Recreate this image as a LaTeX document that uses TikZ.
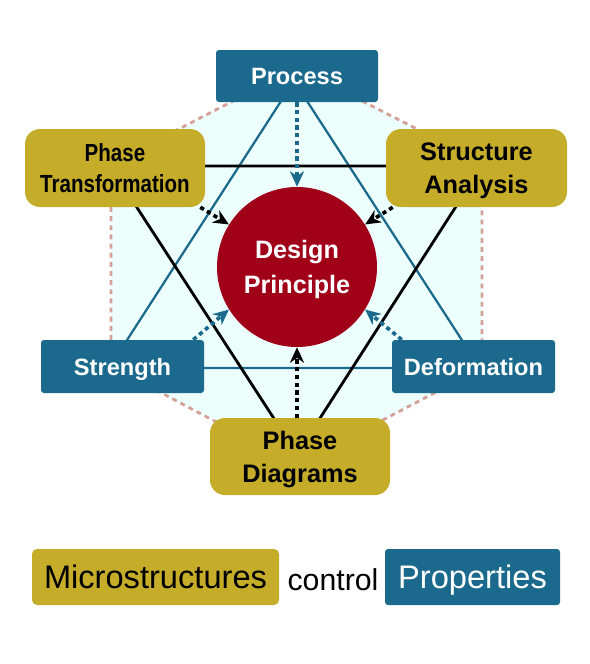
\documentclass[tikz,border=0pt]{standalone}
\usepackage{fontspec}
\setmainfont{Liberation Sans}
\newfontfamily\narrowfont[FakeStretch=0.83]{Liberation Sans}
\usetikzlibrary{arrows.meta}

\newdimen\px \px=0.025cm

\definecolor{propblue}{HTML}{1B6A8E}
\definecolor{microgold}{HTML}{C5AC29}
\definecolor{designred}{HTML}{A10019}
\definecolor{hexfill}{HTML}{EDFFFD}
\definecolor{hexline}{HTML}{D3A197}

\tikzset{
  propbox/.style={fill=propblue, text=white, rounded corners=3\px, inner sep=0pt,
    minimum width=163\px, minimum height=53\px, text height=12.1pt, text depth=0pt,
    font=\fontsize{16.8}{20}\selectfont\bfseries},
  microbox/.style={fill=microgold, text=black, rounded corners=15\px, inner sep=0pt,
    minimum width=180\px, minimum height=78\px, align=center, text depth=0pt,
    font=\fontsize{18}{23.4}\selectfont\bfseries},
  linkarrow/.style={line width=2.6pt, dash pattern=on 3pt off 2.5pt,
    -{Stealth[length=11pt,width=10pt,inset=3.5pt]}},
  legendtext/.style={inner sep=0pt, text height=16.7pt, text depth=0pt,
    font=\fontsize{23.2}{28}\selectfont},
}

\begin{document}
\begin{tikzpicture}[x=0.025cm, y=-0.025cm]
    \useasboundingbox (0,0) rectangle (590,664);

    % Esagono
    \coordinate (h1) at (297,68);
    \coordinate (h2) at (482,162);
    \coordinate (h3) at (482,368);
    \coordinate (h4) at (297,465);
    \coordinate (h5) at (111,366);
    \coordinate (h6) at (111,164);
    \fill[hexfill] (h1) -- (h2) -- (h3) -- (h4) -- (h5) -- (h6) -- cycle;
    \draw[hexline, line width=2pt, dash pattern=on 3.5pt off 3pt]
        (h1) -- (h2) -- (h3) -- (h4) -- (h5) -- (h6) -- cycle;

    % Triangoli
    \coordinate (bt) at (294,81);
    \coordinate (bl) at (109,368);
    \coordinate (br) at (480,368);
    \draw[propblue, line width=1.6pt] (bt) -- (bl) -- (br) -- cycle;

    \coordinate (kl) at (110,166);
    \coordinate (kr) at (482,166);
    \coordinate (kb) at (297,454);
    \draw[black, line width=2pt] (kl) -- (kr) -- (kb) -- cycle;

    % Cerchio centrale
    \node[circle, fill=designred, minimum size=160\px, inner sep=0pt, text=white,
          align=center, text depth=0pt, font=\fontsize{17.9}{24.8}\selectfont\bfseries]
        (dp) at (297,267) {Design\\Principle};

    % Riquadri
    \node[propbox, minimum width=162\px, minimum height=52\px] (proc) at (297,76) {Process};
    \node[propbox] (st) at (122.5,366.5) {Strength};
    \node[propbox] (df) at (473.5,366.5) {Deformation};
    \node[microbox, font=\narrowfont\fontsize{17.6}{22.7}\selectfont\bfseries] (pt) at (115,168) {Phase\\Transformation};
    \node[microbox, minimum width=181\px] (sa) at (476.5,168) {Structure\\Analysis};
    \node[microbox, minimum height=77\px] (pd) at (300,456.5) {Phase\\Diagrams};

    % Frecce verso il centro
    \draw[linkarrow, propblue] (proc.south) -- (dp.north);
    \draw[linkarrow] ([xshift=-5\px]pt.south east) -- (dp.148);
    \draw[linkarrow] ([xshift=7\px]sa.south west) -- (dp.32);
    \draw[linkarrow, propblue] ([xshift=-11\px]st.north east) -- (dp.212);
    \draw[linkarrow, propblue] ([xshift=10\px]df.north west) -- (dp.-32);
    \draw[linkarrow] (dp.south |- pd.north) -- (dp.south);

    % Legenda
    \node[legendtext, fill=microgold, rounded corners=5\px, minimum width=247\px, minimum height=56\px]
        (micro) at (155.5,577) {Microstructures};
    \node[legendtext, text height=15.5pt, font=\fontsize{21.5}{26}\selectfont] (ctrl) at (333,580) {control};
    \node[legendtext, fill=propblue, text=white, rounded corners=3\px, minimum width=175\px, minimum height=56\px]
        (props) at (472.5,577) {Properties};

\end{tikzpicture}
\end{document}
